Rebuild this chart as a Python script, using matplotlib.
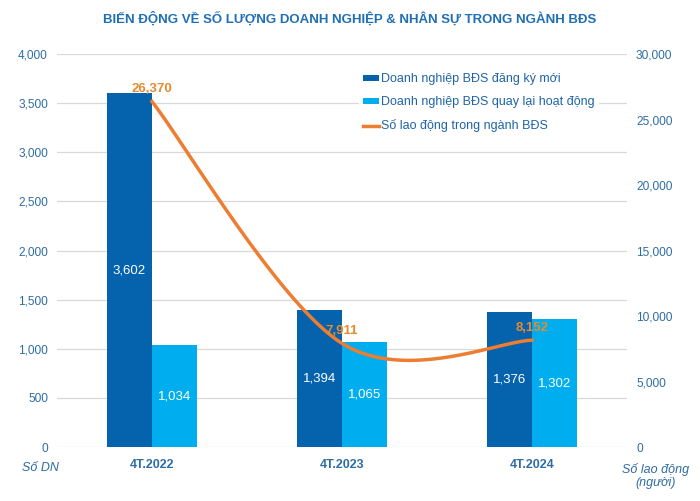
import numpy as np
import matplotlib.pyplot as plt

plt.rcParams['font.family'] = ['Liberation Sans', 'DejaVu Sans']

periods = ['4T.2022', '4T.2023', '4T.2024']
dn_moi = [3602, 1394, 1376]
dn_quay_lai = [1034, 1065, 1302]
lao_dong = [26370, 7911, 8152]

blue_dark = '#0563AE'
blue_light = '#00AEEF'
orange = '#ED7D31'
txt_blue = '#2E6DA4'

fig = plt.figure(figsize=(7, 5.01), dpi=100)
ax = fig.add_axes([57 / 700, 1 - 447 / 501, 570 / 700, 393 / 501])
ax2 = ax.twinx()

x = np.arange(len(periods))
w = 0.237
b1 = ax.bar(x - w / 2, dn_moi, w, color=blue_dark, label='Doanh nghiệp BĐS đăng ký mới', zorder=2)
b2 = ax.bar(x + w / 2, dn_quay_lai, w, color=blue_light, label='Doanh nghiệp BĐS quay lại hoạt động', zorder=2)
for bars, vals in ((b1, dn_moi), (b2, dn_quay_lai)):
    for r, v in zip(bars, vals):
        ax.text(r.get_x() + r.get_width() / 2, v / 2, f'{v:,}', ha='center', va='center',
                color='white', fontsize=9.5, zorder=3)

# smoothed line (Catmull-Rom style bezier like Excel)
px = x.astype(float)
py = np.array(lao_dong, dtype=float)
n = len(px)
cx, cy = [], []
t = np.linspace(0, 1, 60)
for i in range(n - 1):
    p0 = (px[max(i - 1, 0)], py[max(i - 1, 0)])
    p1 = (px[i], py[i])
    p2 = (px[i + 1], py[i + 1])
    p3 = (px[min(i + 2, n - 1)], py[min(i + 2, n - 1)])
    c1 = (p1[0] + (p2[0] - p0[0]) / 6, p1[1] + (p2[1] - p0[1]) / 6)
    c2 = (p2[0] - (p3[0] - p1[0]) / 6, p2[1] - (p3[1] - p1[1]) / 6)
    for k in range(2):
        pts = [p1[k], c1[k], c2[k], p2[k]]
        seg = ((1 - t) ** 3 * pts[0] + 3 * (1 - t) ** 2 * t * pts[1]
               + 3 * (1 - t) * t ** 2 * pts[2] + t ** 3 * pts[3])
        (cx if k == 0 else cy).extend(seg)
ax2.plot(cx, cy, color=orange, lw=2.5, label='Số lao động trong ngành BĐS', zorder=4)
for xi, v in zip(x, lao_dong):
    ax2.text(xi, v + 500, f'{v:,}', ha='center', va='bottom', color='#E58A2F',
             fontsize=9.5, fontweight='bold', zorder=5)

ax.set_xlim(-0.5, 2.5)
ax.set_ylim(0, 4000)
ax2.set_ylim(0, 30000)
ax.set_yticks(range(0, 4001, 500))
ax2.set_yticks(range(0, 30001, 5000))
ax.set_yticklabels([f'{v:,}' for v in range(0, 4001, 500)])
ax2.set_yticklabels([f'{v:,}' for v in range(0, 30001, 5000)])
ax.set_xticks(x)
ax.set_xticklabels(periods, fontweight='bold', color=txt_blue, fontsize=9)
ax.yaxis.grid(True, color='#D9D9D9', lw=0.9, zorder=0)
ax.set_axisbelow(True)
for a in (ax, ax2):
    for s in a.spines.values():
        s.set_visible(False)
    a.tick_params(length=0, labelsize=8.6, colors=txt_blue)
ax.tick_params(axis='y', pad=6.5)
ax2.tick_params(axis='y', pad=6.5)
ax.tick_params(axis='x', pad=9, labelsize=9)

h1, l1 = ax.get_legend_handles_labels()
h2, l2 = ax2.get_legend_handles_labels()
leg = ax2.legend(h1 + h2, l1 + l2, loc='upper left', bbox_to_anchor=(0.519, 0.976),
                 frameon=True, fontsize=9, handlelength=1.3, handleheight=0.45,
                 handletextpad=0.15, labelspacing=0.88, borderpad=0.3, fancybox=False,
                 labelcolor='#1F64A8')
leg.get_frame().set_edgecolor('white')
leg.get_frame().set_alpha(1)
leg.set_zorder(10)

fig.text(0.5, 1 - 19 / 501, 'BIẾN ĐỘNG VỀ SỐ LƯỢNG DOANH NGHIỆP & NHÂN SỰ TRONG NGÀNH BĐS',
         ha='center', va='center', color='#1F6FB5', fontsize=9.5, fontweight='bold')
fig.text(40 / 700, 1 - 468 / 501, 'Số DN', ha='center', va='center', color=txt_blue,
         fontsize=9, style='italic')
fig.text(656 / 700, 1 - 476 / 501, 'Số lao động\n(người)', ha='center', va='center',
         color=txt_blue, fontsize=9, style='italic', linespacing=1.2)

fig.savefig('out.png', dpi=100)
